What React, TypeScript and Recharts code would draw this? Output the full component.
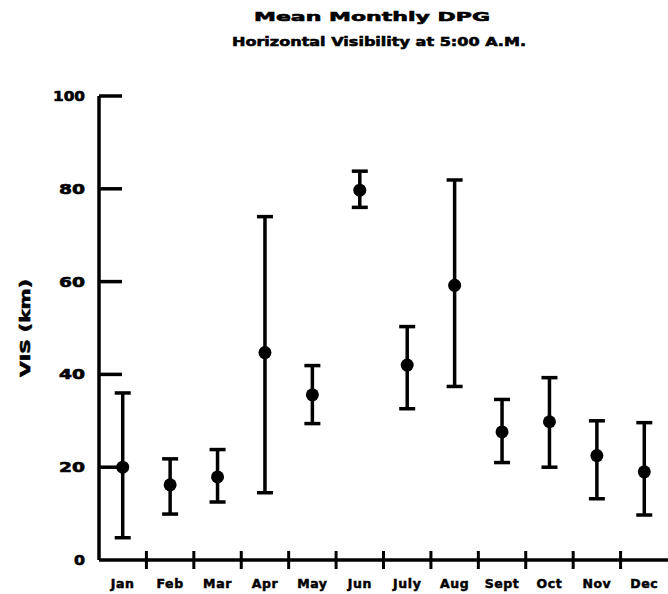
import React from 'react'
import { ComposedChart, Scatter, ErrorBar, XAxis, YAxis } from 'recharts'

// values (km)
const months = ['Jan', 'Feb', 'Mar', 'Apr', 'May', 'Jun', 'July', 'Aug', 'Sept', 'Oct', 'Nov', 'Dec']
const meanVis = [20, 16.2, 17.9, 44.7, 35.6, 79.7, 42, 59.2, 27.6, 29.8, 22.5, 19]
const highVis = [36, 21.8, 23.8, 74, 41.9, 83.8, 50.3, 81.9, 34.6, 39.3, 30, 29.6]
const lowVis = [4.8, 9.9, 12.5, 14.5, 29.4, 76, 32.6, 37.4, 21, 20, 13.2, 9.7]
const yTicks = [0, 20, 40, 60, 80, 100]

const data = months.map((m, i) => ({
  x: i + 1,
  name: m,
  vis: meanVis[i],
  err: [meanVis[i] - lowVis[i], highVis[i] - meanVis[i]],
}))

// month labels sit on whole numbers, tick marks between them on the halves
const xTicks: number[] = []
months.forEach((_, i) => {
  xTicks.push(i + 1)
  if (i < months.length - 1) xTicks.push(i + 1.5)
})

const FONT = '"DejaVu Sans", sans-serif'

const XTick = (props: any) => {
  const { x, y, payload } = props
  const v = payload.value
  if (Number.isInteger(v)) {
    return (
      <text x={x} y={y + 28} textAnchor="middle" fontFamily={FONT} fontWeight="900" fontSize={12.5}
        letterSpacing={0.6} fill="#000" stroke="#000" strokeWidth={0.5}>
        {months[v - 1]}
      </text>
    )
  }
  return <line x1={x} x2={x} y1={y - 9} y2={y + 9} stroke="#000" strokeWidth={3} />
}

const YTick = (props: any) => {
  const { x, y, payload } = props
  const label = String(payload.value)
  return (
    <g>
      {payload.value > 0 && <line x1={x} x2={x + 23} y1={y} y2={y} stroke="#000" strokeWidth={3.5} />}
      <text x={x - 14} y={y + 5} textAnchor="end" fontFamily={FONT} fontWeight="bold" fontSize={14}
        fill="#000" stroke="#000" strokeWidth={0.6}
        textLength={label.length > 2 ? 32 : label.length > 1 ? 26 : 11} lengthAdjust="spacingAndGlyphs">
        {label}
      </text>
    </g>
  )
}

const Dot = (props: any) => <circle cx={props.cx} cy={props.cy} r={6.5} fill="#000" />

export default function App() {
  return (
    <div style={{ position: 'fixed', left: 0, top: 0, width: 668, height: 594, overflow: 'hidden', background: '#fff' }}>
      <ComposedChart width={668} height={594} data={data} margin={{ top: 96, right: 0, bottom: 0, left: 3 }}>
        <XAxis
          dataKey="x"
          type="number"
          domain={[0.5, 12.5]}
          ticks={xTicks}
          interval={0}
          tickLine={false}
          tickSize={0}
          tickMargin={0}
          tick={<XTick />}
          height={34}
          axisLine={{ stroke: '#000', strokeWidth: 3.5 }}
        />
        <YAxis
          type="number"
          domain={[0, 100]}
          ticks={yTicks}
          interval={0}
          tickLine={false}
          tickSize={0}
          tickMargin={0}
          tick={<YTick />}
          width={96}
          axisLine={{ stroke: '#000', strokeWidth: 3.5 }}
        />
        <Scatter dataKey="vis" fill="#000" shape={<Dot />} isAnimationActive={false}>
          <ErrorBar dataKey="err" direction="y" width={8} stroke="#000" strokeWidth={3.5} isAnimationActive={false} />
        </Scatter>
      </ComposedChart>
      <svg width={668} height={594} style={{ position: 'absolute', left: 0, top: 0, pointerEvents: 'none' }}>
        <text x={372} y={21} textAnchor="middle" fontFamily={FONT} fontWeight="bold" fontSize={13}
          stroke="#000" strokeWidth={0.6} textLength={236} lengthAdjust="spacingAndGlyphs">
          Mean Monthly DPG
        </text>
        <text x={379} y={46} textAnchor="middle" fontFamily={FONT} fontWeight="bold" fontSize={13}
          stroke="#000" strokeWidth={0.6} textLength={294} lengthAdjust="spacingAndGlyphs">
          Horizontal Visibility at 5:00 A.M.
        </text>
        <text x={30} y={328} textAnchor="middle" fontFamily={FONT} fontWeight="bold" fontSize={14}
          stroke="#000" strokeWidth={0.6} textLength={98} lengthAdjust="spacingAndGlyphs"
          transform="rotate(-90 30 328)">
          VIS (km)
        </text>
      </svg>
    </div>
  )
}
